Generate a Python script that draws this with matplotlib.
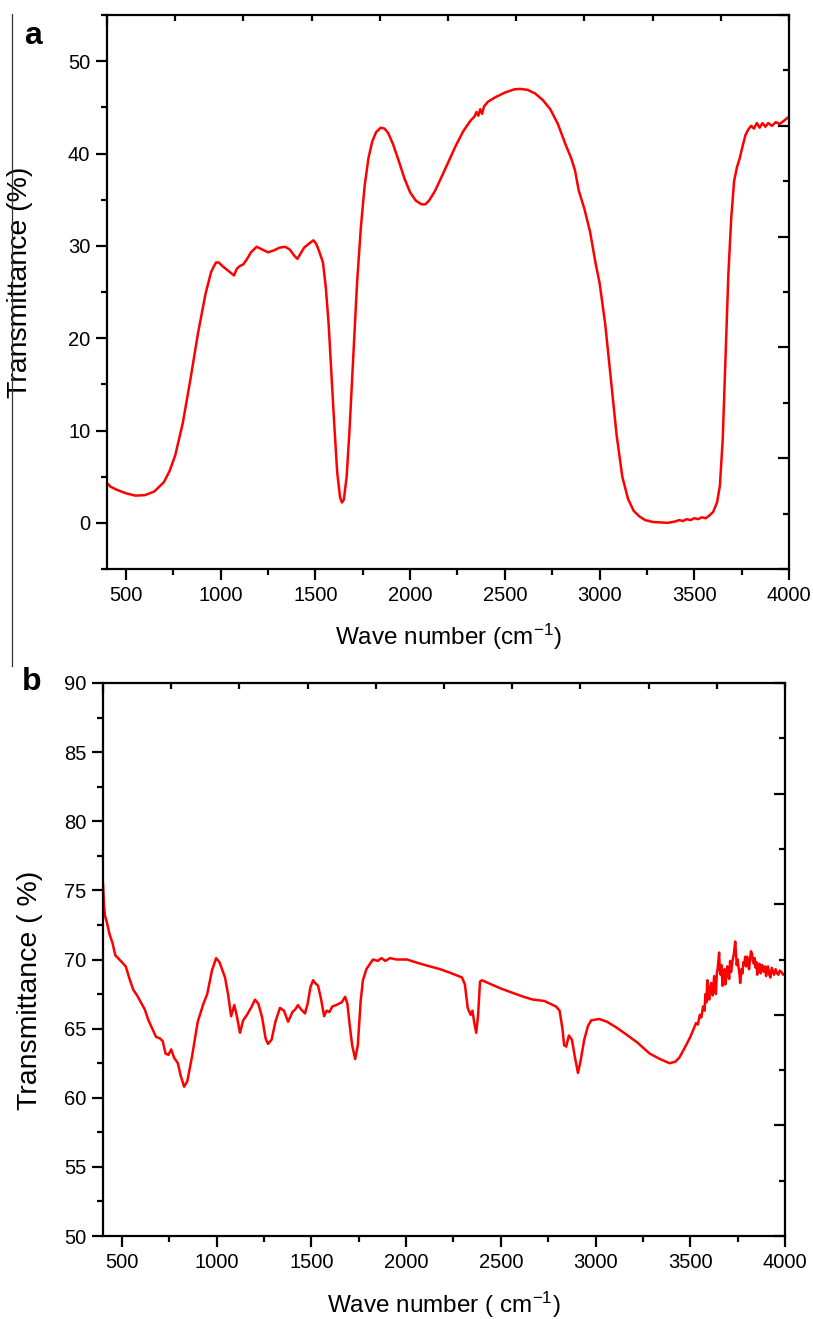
import numpy as np
import matplotlib
matplotlib.use('Agg')
import matplotlib.pyplot as plt
from matplotlib.ticker import MultipleLocator
from matplotlib.lines import Line2D

plt.rcParams['font.family'] = ['Liberation Sans', 'DejaVu Sans']
plt.rcParams['mathtext.fontset'] = 'custom'
plt.rcParams['mathtext.rm'] = 'Liberation Sans'
plt.rcParams['mathtext.it'] = 'Liberation Sans'
plt.rcParams['axes.unicode_minus'] = False

# panel a spectrum (wave number, transmittance %)
wn_a = [400, 420, 450, 500, 550, 600, 650, 700, 730, 760, 800, 840, 880, 920, 950,
        975, 990, 1010, 1040, 1070, 1085, 1100, 1120, 1140, 1160, 1190, 1220, 1250,
        1280, 1310, 1340, 1365, 1390, 1405, 1420, 1440, 1470, 1490, 1505, 1520, 1540,
        1555, 1570, 1585, 1600, 1615, 1630, 1640, 1650, 1665, 1680, 1700, 1720, 1740,
        1760, 1780, 1800, 1820, 1845, 1865, 1885, 1910, 1940, 1970, 2000, 2030, 2060,
        2080, 2100, 2130, 2160, 2200, 2240, 2280, 2320, 2340, 2350, 2360, 2370, 2380,
        2390, 2410, 2450, 2500, 2550, 2580, 2620, 2660, 2700, 2740, 2780, 2820, 2850,
        2870, 2890, 2920, 2950, 2980, 3000, 3030, 3060, 3090, 3120, 3150, 3180, 3210,
        3240, 3280, 3320, 3360, 3400, 3420, 3440, 3460, 3480, 3500, 3520, 3540, 3560,
        3580, 3600, 3620, 3635, 3650, 3665, 3680, 3695, 3710, 3725, 3740, 3755, 3770,
        3785, 3800, 3815, 3830, 3845, 3860, 3875, 3890, 3910, 3930, 3950, 3970, 4000]
tr_a = [4.3, 3.9, 3.6, 3.2, 2.95, 3.0, 3.4, 4.4, 5.6, 7.3, 10.8, 15.5, 20.5, 24.8, 27.2,
        28.2, 28.2, 27.8, 27.3, 26.8, 27.5, 27.8, 28.0, 28.6, 29.3, 29.9, 29.6, 29.3,
        29.5, 29.8, 29.9, 29.6, 28.9, 28.6, 29.1, 29.8, 30.3, 30.6, 30.2, 29.4, 28.2,
        25.5, 21.5, 16.0, 10.5, 5.5, 2.8, 2.2, 2.5, 5.0, 10.0, 18.0, 26.0, 32.0,
        36.5, 39.5, 41.3, 42.3, 42.8, 42.7, 42.2, 41.0, 39.2, 37.3, 35.8, 34.9, 34.5,
        34.5, 34.9, 35.9, 37.2, 39.0, 40.8, 42.4, 43.6, 44.0, 44.5, 44.1, 44.8, 44.3,
        45.1, 45.6, 46.1, 46.6, 46.95, 47.0, 46.9, 46.5, 45.8, 44.8, 43.2, 41.0, 39.5,
        38.2, 36.0, 34.0, 31.5, 28.0, 26.0, 21.5, 15.5, 9.5, 5.0, 2.6, 1.3, 0.7,
        0.3, 0.1, 0.05, 0.0, 0.15, 0.3, 0.2, 0.4, 0.3, 0.5, 0.4, 0.6, 0.5,
        0.8, 1.2, 2.2, 4.0, 9.0, 18.0, 27.0, 33.0, 37.0, 38.5, 39.5, 40.8, 42.0,
        42.6, 43.0, 42.7, 43.3, 42.8, 43.3, 42.9, 43.3, 43.0, 43.4, 43.2, 43.5, 44.0]

# panel b spectrum
wn_b = [400, 405, 410, 420, 435, 450, 465, 480, 500, 520, 540, 560, 580, 600, 620, 640,
        660, 680, 700, 715, 730, 745, 760, 775, 795, 810, 828, 845, 870, 900, 930, 950,
        975, 997, 1015, 1044, 1060, 1076, 1093, 1105, 1123, 1140, 1160, 1185, 1202, 1220,
        1240, 1258, 1271, 1290, 1310, 1334, 1355, 1377, 1400, 1415, 1429, 1445, 1466,
        1480, 1495, 1509, 1520, 1535, 1550, 1567, 1580, 1595, 1610, 1630, 1660, 1678,
        1690, 1700, 1715, 1731, 1745, 1760, 1772, 1790, 1810, 1825, 1850, 1870, 1890,
        1915, 1950, 1980, 2005, 2050, 2100, 2179, 2240, 2295, 2310, 2325, 2340, 2350,
        2360, 2370, 2380, 2390, 2400, 2450, 2500, 2560, 2620, 2670, 2730, 2791, 2810,
        2825, 2834, 2845, 2859, 2875, 2890, 2907, 2920, 2940, 2960, 2977, 3019, 3060,
        3108, 3160, 3220, 3285, 3340, 3390, 3420, 3442, 3470, 3500, 3515, 3530, 3540,
        3550, 3558, 3567, 3575, 3580, 3585, 3590, 3595, 3600, 3605, 3610, 3618, 3626,
        3630, 3635, 3640, 3645, 3652, 3656, 3660, 3665, 3670, 3675, 3680, 3685, 3690,
        3695, 3700, 3705, 3710, 3715, 3720, 3725, 3730, 3737, 3742, 3745, 3750, 3755,
        3760, 3763, 3770, 3775, 3780, 3785, 3790, 3795, 3800, 3805, 3810, 3815, 3820,
        3826, 3830, 3835, 3840, 3845, 3850, 3853, 3860, 3865, 3872, 3879, 3885, 3890,
        3895, 3900, 3905, 3910, 3917, 3923, 3930, 3935, 3942, 3950, 3958, 3965, 3972,
        3980, 3990, 4000]
tr_b = [75.5, 74.0, 73.2, 72.7, 71.8, 71.2, 70.3, 70.1, 69.8, 69.5, 68.6, 67.8, 67.4, 66.9, 66.4, 65.6,
        65.0, 64.4, 64.3, 64.1, 63.2, 63.1, 63.5, 62.9, 62.5, 61.6, 60.8, 61.2, 63.0, 65.5, 66.8, 67.5,
        69.2, 70.1, 69.8, 68.7, 67.5, 65.9, 66.7, 66.0, 64.7, 65.6, 66.0, 66.6, 67.1, 66.8,
        65.8, 64.3, 63.9, 64.2, 65.5, 66.5, 66.3, 65.5, 66.2, 66.4, 66.7, 66.4, 66.1,
        66.8, 68.0, 68.5, 68.3, 68.1, 67.2, 65.9, 66.3, 66.2, 66.6, 66.7, 66.9, 67.3,
        66.8, 65.5, 63.8, 62.8, 63.8, 67.0, 68.5, 69.3, 69.7, 70.0, 69.9, 70.1, 69.9,
        70.1, 70.0, 70.0, 70.0, 69.8, 69.6, 69.3, 69.0, 68.7, 68.2, 66.5, 66.0, 66.3,
        65.4, 64.7, 66.0, 68.4, 68.5, 68.2, 67.9, 67.6, 67.3, 67.1, 67.0, 66.6, 66.3,
        65.0, 63.8, 63.7, 64.5, 64.2, 63.0, 61.8, 62.6, 64.2, 65.2, 65.6, 65.7, 65.5,
        65.1, 64.6, 64.0, 63.2, 62.8, 62.5, 62.6, 62.9, 63.6, 64.4, 64.9, 65.4, 65.3,
        66.0, 65.8, 66.6, 66.3, 67.5, 66.9, 68.5, 67.6, 67.1, 68.0, 68.3, 67.4, 68.8,
        68.0, 67.5, 69.0, 69.4, 70.5, 69.2, 68.9, 69.6, 68.1, 69.0, 69.3, 68.2, 68.7,
        69.5, 69.2, 68.6, 69.9, 69.1, 69.6, 70.1, 70.4, 71.3, 70.2, 69.6, 70.0, 69.4,
        68.9, 68.3, 69.3, 69.0, 69.8, 69.6, 70.2, 69.5, 70.2, 69.8, 69.3, 70.0, 70.6,
        70.4, 69.9, 69.7, 70.1, 69.4, 69.8, 68.9, 69.5, 69.7, 69.0, 69.6, 69.2, 69.1,
        69.5, 68.8, 69.3, 69.5, 68.9, 68.7, 69.4, 69.2, 68.9, 69.3, 69.0, 68.9, 69.2,
        69.1, 68.9, 69.0]

fig = plt.figure(figsize=(8.13, 13.19), dpi=100)

def style_axes(ax, rect, ymaj, ymin):
    for s in ax.spines.values():
        s.set_linewidth(1.6)
    ax.set_xlim(400, 4000)
    ax.xaxis.set_major_locator(MultipleLocator(500))
    ax.xaxis.set_minor_locator(MultipleLocator(250))
    ax.yaxis.set_major_locator(MultipleLocator(ymaj))
    ax.yaxis.set_minor_locator(MultipleLocator(ymin))
    ax.tick_params(which='major', direction='out', length=8, width=1.6,
                   labelsize=14.5, pad=4, top=False, right=False)
    ax.tick_params(which='minor', direction='out', length=4.5, width=1.6,
                   top=False, right=False)
    # top and right axes carry their own 0..1 ticks (10 divisions)
    ax2 = fig.add_axes(rect, frameon=False)
    ax2.set_xlim(0, 1)
    ax2.set_ylim(0, 1)
    ax2.patch.set_visible(False)
    ax2.xaxis.set_major_locator(MultipleLocator(2))
    ax2.xaxis.set_minor_locator(MultipleLocator(0.1))
    ax2.yaxis.set_major_locator(MultipleLocator(0.2))
    ax2.yaxis.set_minor_locator(MultipleLocator(0.1))
    ax2.tick_params(which='both', direction='in', width=1.6, top=True, right=True,
                    bottom=False, left=False, labelbottom=False, labelleft=False,
                    labeltop=False, labelright=False)
    ax2.tick_params(which='major', length=8)
    ax2.tick_params(which='minor', length=4.5)

rect_a = [0.1316, 0.5686, 0.8389, 0.4200]
ax = fig.add_axes(rect_a)
ax.plot(wn_a, tr_a, color='red', lw=1.8)
ax.set_ylim(-5, 55)
style_axes(ax, rect_a, 10, 5)
ax.set_xlabel('Wave number (cm$^{-1}$)', fontsize=17.5)
ax.set_ylabel('Transmittance (%)', fontsize=20.5)
ax.xaxis.set_label_coords(0.5, -0.123)
ax.xaxis.label.set_va('center')
ax.yaxis.set_label_coords(-0.128, 0.518)
ax.yaxis.label.set_va('center')

rect_b = [0.1267, 0.0629, 0.8389, 0.4193]
bx = fig.add_axes(rect_b)
bx.plot(wn_b, tr_b, color='red', lw=1.8)
bx.set_ylim(50, 90)
style_axes(bx, rect_b, 5, 2.5)
bx.set_xlabel('Wave number ( cm$^{-1}$)', fontsize=17.5)
bx.set_ylabel('Transmittance ( %)', fontsize=20.5)
bx.xaxis.set_label_coords(0.5, -0.125)
bx.xaxis.label.set_va('center')
bx.yaxis.set_label_coords(-0.107, 0.445)
bx.yaxis.label.set_va('center')

fig.text(0.040, 0.9725, 'a', fontsize=23, fontweight='bold', ha='center', va='center')
fig.text(0.039, 0.483, 'b', fontsize=23, fontweight='bold', ha='center', va='center')

# thin frame line on the left of panel a
fig.add_artist(Line2D([0.0148, 0.0148], [0.9894, 0.4951], transform=fig.transFigure,
                      color='#333333', lw=0.9))

fig.savefig('out.png', dpi=100)
